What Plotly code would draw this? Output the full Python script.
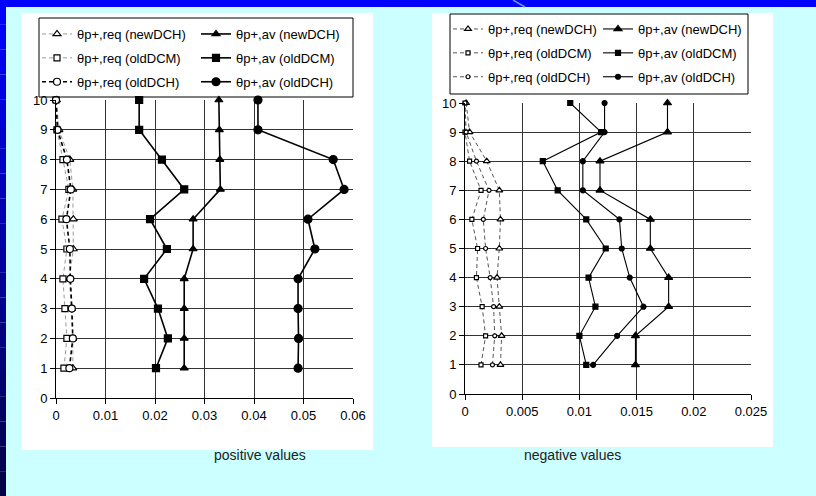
import plotly.graph_objects as go

W, H = 816, 496
levels = [1, 2, 3, 4, 5, 6, 7, 8, 9, 10]

# positive values (left panel)
pos_req_newDCH = [0.0034, 0.0034, 0.0031, 0.0027, 0.0035, 0.0035, 0.0034, 0.0028, 0.0006, 0.0001]
pos_req_oldDCM = [0.0016, 0.0022, 0.0018, 0.0014, 0.0022, 0.0012, 0.0026, 0.0014, 0.0002, 0.0000]
pos_req_oldDCH = [0.0027, 0.0034, 0.0032, 0.0029, 0.0028, 0.0021, 0.0030, 0.0022, 0.0003, 0.0000]
pos_av_newDCH = [0.0259, 0.0259, 0.0259, 0.0259, 0.0277, 0.0277, 0.0332, 0.0331, 0.0330, 0.0329]
pos_av_oldDCM = [0.0202, 0.0226, 0.0206, 0.0178, 0.0224, 0.0190, 0.0259, 0.0214, 0.0168, 0.0168]
pos_av_oldDCH = [0.0489, 0.0490, 0.0489, 0.0489, 0.0523, 0.0509, 0.0582, 0.0560, 0.0408, 0.0408]

# negative values (right panel)
neg_req_newDCH = [0.0031, 0.0032, 0.0030, 0.0028, 0.0030, 0.0031, 0.0030, 0.0019, 0.0004, 0.0001]
neg_req_oldDCM = [0.0014, 0.0018, 0.0015, 0.0010, 0.0011, 0.0006, 0.0014, 0.0004, 0.0000, 0.0000]
neg_req_oldDCH = [0.0024, 0.0026, 0.0025, 0.0022, 0.0018, 0.0016, 0.0021, 0.0010, 0.0001, 0.0000]
neg_av_newDCH = [0.0149, 0.0149, 0.0178, 0.0178, 0.0162, 0.0162, 0.0118, 0.0118, 0.0177, 0.0177]
neg_av_oldDCM = [0.0106, 0.0100, 0.0114, 0.0108, 0.0123, 0.0106, 0.0081, 0.0068, 0.0119, 0.0092]
neg_av_oldDCH = [0.0112, 0.0133, 0.0156, 0.0144, 0.0137, 0.0135, 0.0103, 0.0103, 0.0122, 0.0122]

names = ["θp+,req (newDCH)", "θp+,av (newDCH)",
         "θp+,req (oldDCM)", "θp+,av (oldDCM)",
         "θp+,req (oldDCH)", "θp+,av (oldDCH)"]

left_x_ticks = [0, 0.01, 0.02, 0.03, 0.04, 0.05, 0.06]
left_x_labels = ["0", "0.01", "0.02", "0.03", "0.04", "0.05", "0.06"]
right_x_ticks = [0, 0.005, 0.01, 0.015, 0.02, 0.025]
right_x_labels = ["0", "0.005", "0.01", "0.015", "0.02", "0.025"]
y_ticks = [0, 1, 2, 3, 4, 5, 6, 7, 8, 9, 10]

FONT = "Liberation Sans"
fig = go.Figure()

def add(xvals, name, xa, ya, legend, group, symbol, msize, lcolor, lwidth, dash, mcolor, mfill):
    fig.add_trace(go.Scatter(
        x=xvals, y=levels, name=name, xaxis=xa, yaxis=ya, legend=legend,
        legendgroup=group, mode="lines+markers", cliponaxis=False,
        line=dict(color=lcolor, width=lwidth, dash=dash),
        marker=dict(symbol=symbol, size=msize, color=mfill,
                    line=dict(color=mcolor, width=1.2)),
    ))

# left panel
add(pos_req_newDCH, names[0], "x", "y", "legend", "a", "triangle-up", 7, "#9a9a9a", 1, "4px,3px", "black", "white")
add(pos_req_oldDCM, names[2], "x", "y", "legend", "b", "square", 6, "#9a9a9a", 1, "4px,3px", "black", "white")
add(pos_req_oldDCH, names[4], "x", "y", "legend", "c", "circle", 7, "black", 1.6, "4px,3px", "black", "white")
add(pos_av_newDCH, names[1], "x", "y", "legend2", "d", "triangle-up", 7, "black", 1.6, "solid", "black", "black")
add(pos_av_oldDCM, names[3], "x", "y", "legend2", "e", "square", 7, "black", 1.6, "solid", "black", "black")
add(pos_av_oldDCH, names[5], "x", "y", "legend2", "f", "circle", 8, "black", 1.6, "solid", "black", "black")

# right panel
add(neg_req_newDCH, names[0], "x2", "y2", "legend3", "g", "triangle-up", 6, "#555555", 1, "4px,3px", "black", "white")
add(neg_req_oldDCM, names[2], "x2", "y2", "legend3", "h", "square", 4, "#555555", 1, "4px,3px", "black", "white")
add(neg_req_oldDCH, names[4], "x2", "y2", "legend3", "i", "circle", 4, "#555555", 1, "4px,3px", "black", "white")
add(neg_av_newDCH, names[1], "x2", "y2", "legend4", "j", "triangle-up", 7, "black", 1.1, "solid", "black", "black")
add(neg_av_oldDCM, names[3], "x2", "y2", "legend4", "k", "square", 5, "black", 1.1, "solid", "black", "black")
add(neg_av_oldDCH, names[5], "x2", "y2", "legend4", "l", "circle", 5, "black", 1.1, "solid", "black", "black")

def px(v):
    return v / W

def py(v):
    return 1 - v / H

grid = "#333333"
axis_common = dict(showgrid=True, gridcolor=grid, gridwidth=1, zeroline=False,
                   showline=True, linecolor="black", linewidth=1, automargin=False,
                   ticks="outside", ticklen=5, tickcolor="black",
                   tickfont=dict(family=FONT, size=13, color="black"), fixedrange=True)

fig.update_layout(
    width=W, height=H, margin=dict(l=0, r=0, t=0, b=0, pad=0, autoexpand=False),
    paper_bgcolor="#ccffff", plot_bgcolor="white",
    font=dict(family=FONT, color="black"),
    xaxis=dict(domain=[px(56), px(353)], range=[0, 0.06], tickvals=left_x_ticks,
               ticktext=left_x_labels, anchor="y", **axis_common),
    yaxis=dict(domain=[py(398), py(100)], range=[0, 10], tickvals=y_ticks, anchor="x", **axis_common),
    xaxis2=dict(domain=[px(465), px(751)], range=[0, 0.025], tickvals=right_x_ticks,
                ticktext=right_x_labels, anchor="y2", **axis_common),
    yaxis2=dict(domain=[py(394), py(103)], range=[0, 10], tickvals=y_ticks, anchor="x2", **axis_common),
    showlegend=True,
)

leg_common = dict(bgcolor="rgba(0,0,0,0)", borderwidth=0, xanchor="left", yanchor="top",
                  font=dict(family=FONT, size=13, color="black"), tracegroupgap=4,
                  itemclick=False, itemdoubleclick=False)
fig.update_layout(
    legend=dict(x=px(37), y=py(19), **leg_common),
    legend2=dict(x=px(196), y=py(19), **leg_common),
    legend3=dict(x=px(448), y=py(14), **leg_common),
    legend4=dict(x=px(598), y=py(14), **leg_common),
)

shapes = []
# white panels
shapes.append(dict(type="rect", xref="paper", yref="paper", x0=px(21), x1=px(373), y0=py(450), y1=py(13),
                   fillcolor="white", line=dict(width=0), layer="below"))
shapes.append(dict(type="rect", xref="paper", yref="paper", x0=px(432), x1=px(773), y0=py(447), y1=py(13),
                   fillcolor="white", line=dict(width=0), layer="below"))
# legend frames
shapes.append(dict(type="rect", xref="paper", yref="paper", x0=px(39), x1=px(353), y0=py(97), y1=py(18),
                   line=dict(color="black", width=1), fillcolor="rgba(0,0,0,0)"))
shapes.append(dict(type="rect", xref="paper", yref="paper", x0=px(450), x1=px(748), y0=py(94), y1=py(14),
                   line=dict(color="black", width=1), fillcolor="rgba(0,0,0,0)"))
# top blue strip
shapes.append(dict(type="rect", xref="paper", yref="paper", x0=0, x1=1, y0=py(7), y1=1,
                   fillcolor="#0000ff", line=dict(width=0)))
# left gradient strip
n = 20
for i in range(n):
    t = i / (n - 1)
    b = int(255 - t * (255 - 70))
    shapes.append(dict(type="rect", xref="paper", yref="paper", x0=0, x1=px(6),
                       y0=py(H * (i + 1) / n), y1=py(H * i / n),
                       fillcolor=f"rgb(0,0,{b})", line=dict(width=0)))
# small diagonal mark on top strip
shapes.append(dict(type="line", xref="paper", yref="paper", x0=px(513), x1=px(525), y0=py(0), y1=py(7),
                   line=dict(color="#6699cc", width=1.5)))
fig.update_layout(shapes=shapes)

fig.add_annotation(text="positive values", xref="paper", yref="paper", x=px(212), y=py(465),
                   showarrow=False, font=dict(family=FONT, size=14, color="#222222"))
fig.add_annotation(text="negative values", xref="paper", yref="paper", x=px(623), y=py(465),
                   showarrow=False, font=dict(family=FONT, size=14, color="#222222"))

post = (
    "document.documentElement.style.margin='0';"
    "document.documentElement.style.padding='0';"
    "document.documentElement.style.overflow='hidden';"
    "document.body.style.margin='0';"
    "document.body.style.padding='0';"
    "document.body.style.overflow='hidden';"
    "var d=document.getElementById('{plot_id}');"
    "d.style.position='absolute';d.style.left='0px';d.style.top='0px';"
)
fig.write_html("out.html", config={"displayModeBar": False}, post_script=post)
